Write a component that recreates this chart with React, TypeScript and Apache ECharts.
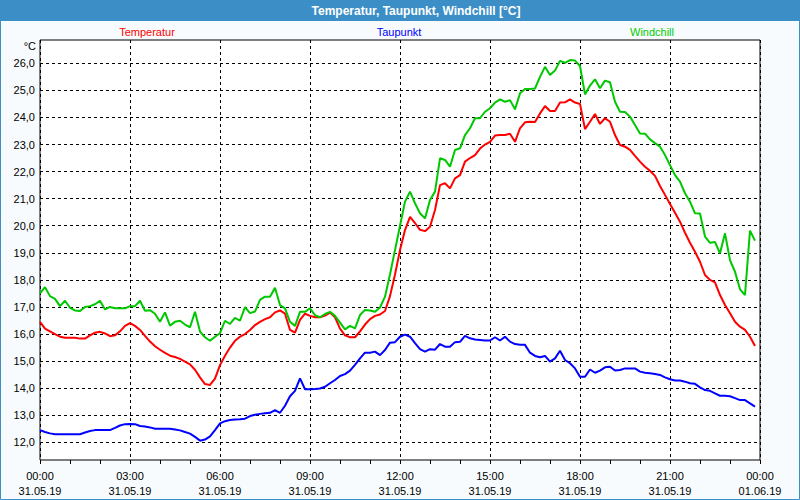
import React, { useEffect, useRef } from "react";
import * as echarts from "echarts";

// 10-minute readings, 00:00 .. 23:50 on 31.05.19
const temperatur = [
  16.45, 16.2, 16.1, 16.0, 15.9, 15.86, 15.86, 15.86, 15.83, 15.83, 15.95, 16.05,
  16.08, 16.02, 15.92, 15.95, 16.1, 16.3, 16.4, 16.3, 16.15, 15.93, 15.72, 15.55,
  15.42, 15.3, 15.2, 15.15, 15.08, 14.98, 14.88, 14.68, 14.4, 14.15, 14.12, 14.35,
  14.85, 15.2, 15.5, 15.75, 15.9, 16.0, 16.15, 16.33, 16.45, 16.55, 16.62, 16.8,
  16.87, 16.75, 16.15, 16.05, 16.52, 16.75, 16.67, 16.62, 16.62, 16.68, 16.79, 16.62,
  16.2, 15.95, 15.88, 15.88, 16.1, 16.35, 16.55, 16.67, 16.72, 16.85, 17.4, 18.2,
  19.1, 19.84, 20.33, 20.1, 19.85, 19.8, 19.96, 20.58, 21.5, 21.57, 21.38, 21.75,
  21.87, 22.37, 22.5, 22.61, 22.85, 23.0, 23.1, 23.33, 23.35, 23.35, 23.4, 23.1,
  23.6, 23.82, 23.84, 23.83, 24.15, 24.42, 24.24, 24.24, 24.55, 24.56, 24.67, 24.55,
  24.5, 23.57, 23.84, 24.13, 23.76, 23.97, 23.84, 23.35, 22.98, 22.92, 22.8, 22.58,
  22.37, 22.18, 22.03, 21.84, 21.47, 21.14, 20.8, 20.48, 20.15, 19.74, 19.37, 19.04,
  18.67, 18.18, 18.0, 17.91, 17.44, 17.07, 16.77, 16.45, 16.27, 16.15, 15.9, 15.56,
];

const taupunkt = [
  12.45, 12.38, 12.33, 12.3, 12.3, 12.3, 12.3, 12.3, 12.3, 12.36, 12.42, 12.45,
  12.45, 12.45, 12.45, 12.53, 12.62, 12.67, 12.68, 12.67, 12.6, 12.58, 12.55, 12.5,
  12.5, 12.5, 12.5, 12.47, 12.44, 12.38, 12.32, 12.2, 12.06, 12.1, 12.22, 12.45,
  12.7, 12.78, 12.82, 12.84, 12.85, 12.87, 12.97, 13.02, 13.05, 13.07, 13.09, 13.19,
  13.09, 13.35, 13.7, 13.9, 14.36, 13.96, 13.96, 13.97, 13.99, 14.05, 14.18, 14.3,
  14.45, 14.52, 14.65, 14.86, 15.1, 15.31, 15.31, 15.35, 15.22, 15.41, 15.68, 15.7,
  15.9, 15.98, 15.9, 15.66, 15.44, 15.35, 15.44, 15.42, 15.63, 15.53, 15.53, 15.7,
  15.71, 15.93, 15.84, 15.8, 15.78, 15.76, 15.76, 15.88, 15.76, 15.9, 15.72, 15.63,
  15.6, 15.6, 15.31, 15.19, 15.14, 15.19, 14.98, 15.1, 15.38, 15.04, 14.92, 14.73,
  14.42, 14.42, 14.69, 14.57, 14.65, 14.77, 14.79, 14.65, 14.67, 14.73, 14.73, 14.73,
  14.61, 14.57, 14.55, 14.52, 14.49, 14.4, 14.33, 14.28, 14.28, 14.24, 14.18, 14.16,
  14.03, 13.93, 13.9, 13.81, 13.72, 13.72, 13.7, 13.63, 13.56, 13.56, 13.44, 13.32,
];

const windchill = [
  17.5, 17.73, 17.4, 17.3, 17.03, 17.23, 16.97, 16.87, 16.85, 17.0, 17.03, 17.1,
  17.23, 16.91, 17.0, 16.95, 16.95, 16.95, 17.03, 17.03, 17.23, 16.86, 16.88, 16.75,
  16.45, 16.8, 16.31, 16.45, 16.49, 16.35, 16.25, 16.82, 16.09, 15.88, 15.75, 15.9,
  16.03, 16.49, 16.37, 16.6, 16.49, 16.99, 16.77, 16.83, 17.26, 17.38, 17.38, 17.71,
  17.07, 16.95, 16.45, 16.3, 16.82, 16.82, 16.95, 16.7, 16.62, 16.74, 16.82, 16.67,
  16.42, 16.17, 16.3, 16.21, 16.7, 16.89, 16.87, 16.82, 16.98, 17.38, 18.2, 19.1,
  20.0, 20.89, 21.26, 20.83, 20.46, 20.27, 20.95, 21.26, 22.49, 22.43, 22.18, 22.8,
  22.86, 23.35, 23.6, 23.97, 23.97, 24.21, 24.34, 24.55, 24.67, 24.58, 24.64, 24.3,
  24.89, 25.05, 25.05, 25.07, 25.5, 25.87, 25.57, 25.73, 26.09, 26.02, 26.12, 26.1,
  25.9, 24.85, 25.18, 25.41, 25.08, 25.36, 25.3, 24.58, 24.21, 24.2, 24.03, 23.72,
  23.41, 23.4, 23.19, 23.05, 22.92, 22.61, 22.24, 21.87, 21.63, 21.2, 20.89, 20.46,
  20.45, 19.6, 19.37, 19.4, 18.98, 19.72, 18.73, 18.3, 17.65, 17.44, 19.82, 19.45,
];

const xTimeLabels = ["00:00", "03:00", "06:00", "09:00", "12:00", "15:00", "18:00", "21:00", "00:00"];
const xDateLabels = ["31.05.19", "31.05.19", "31.05.19", "31.05.19", "31.05.19", "31.05.19", "31.05.19", "31.05.19", "01.06.19"];
const seriesNames = ["Temperatur", "Taupunkt", "Windchill"];
const seriesColors = ["#ff0000", "#0000ff", "#00c800"];
const legendColors = ["#ff0000", "#0000ff", "#00cc00"];
const titleText = "Temperatur, Taupunkt, Windchill [°C]";
const unitText = "°C";

const STEP_HOURS = 10 / 60;

export default function App() {
  const ref = useRef<HTMLDivElement>(null);
  useEffect(() => {
    const chart = echarts.init(ref.current as HTMLDivElement, null, { renderer: "svg" });
    const font = "'Liberation Sans', Arial, sans-serif";
    const pairs = (arr: number[]) => arr.map((v, i) => [i * STEP_HOURS, v]);
    const dash = [3, 3];
    const datasets = [temperatur, taupunkt, windchill];
    const legendX = [147, 399, 652];

    chart.setOption({
      animation: false,
      backgroundColor: "#f7fbfd",
      grid: [
        { left: 40, top: 40, width: 720, height: 420, show: true, backgroundColor: "#ffffff", borderColor: "#000000", borderWidth: 1 },
        { left: 40, top: 63.3, width: 720, height: 379, show: false },
      ],
      xAxis: [
        {
          type: "value",
          gridIndex: 0,
          min: 0,
          max: 24,
          interval: 3,
          axisLine: { show: false },
          axisTick: { show: true, length: 4, lineStyle: { color: "#000" } },
          minorTick: { show: true, splitNumber: 3, length: 4, lineStyle: { color: "#000" } },
          splitLine: { show: true, lineStyle: { color: "#000", type: dash, width: 1 } },
          axisLabel: {
            showMinLabel: true,
            showMaxLabel: true,
            color: "#000",
            fontFamily: font,
            fontSize: 11,
            lineHeight: 15,
            margin: 8,
            formatter: (v: number) => {
              const i = Math.round(v / 3);
              return `${xTimeLabels[i]}\n${xDateLabels[i]}`;
            },
          },
        },
        { type: "value", gridIndex: 1, min: 0, max: 24, show: false },
      ],
      yAxis: [
        {
          type: "value",
          gridIndex: 0,
          min: 11.346,
          max: 26.861,
          axisLine: { show: false },
          axisTick: { show: false },
          axisLabel: { show: false },
          splitLine: { show: false },
        },
        {
          type: "value",
          gridIndex: 1,
          min: 12,
          max: 26,
          interval: 1,
          axisLine: { show: false },
          axisTick: { show: false },
          axisLabel: {
            color: "#000",
            fontFamily: font,
            fontSize: 11,
            margin: 5,
            formatter: (v: number) => v.toFixed(1).replace(".", ","),
          },
          splitLine: { show: true, lineStyle: { color: "#000", type: dash, width: 1 } },
        },
      ],
      series: datasets.map((d, k) => ({
        name: seriesNames[k],
        type: "line",
        xAxisIndex: 0,
        yAxisIndex: 0,
        data: pairs(d),
        showSymbol: false,
        symbol: "none",
        lineStyle: { color: seriesColors[k], width: 2 },
        itemStyle: { color: seriesColors[k] },
        z: 3,
      })),
      graphic: [
        { type: "rect", shape: { x: 0, y: 0, width: 800, height: 21 }, style: { fill: "#3c8fc6" }, z: 10 },
        {
          type: "text",
          x: 416,
          y: 11,
          style: { text: titleText, fill: "#ffffff", font: `bold 12px ${font}`, textAlign: "center", textVerticalAlign: "middle" },
          z: 11,
        },
        { type: "rect", shape: { x: 0.5, y: 0.5, width: 799, height: 499 }, style: { fill: "none", stroke: "#3c8fc6", lineWidth: 1 }, z: 10 },
        ...seriesNames.map((n, k) => ({
          type: "text",
          x: legendX[k],
          y: 32,
          style: { text: n, fill: legendColors[k], font: `11px ${font}`, textAlign: "center", textVerticalAlign: "middle" },
          z: 11,
        })),
        {
          type: "text",
          x: 36,
          y: 46,
          style: { text: unitText, fill: "#000", font: `11px ${font}`, textAlign: "right", textVerticalAlign: "middle" },
          z: 11,
        },
      ],
    });
    return () => chart.dispose();
  }, []);
  return <div ref={ref} style={{ position: "absolute", left: 0, top: 0, width: 800, height: 500 }} />;
}
